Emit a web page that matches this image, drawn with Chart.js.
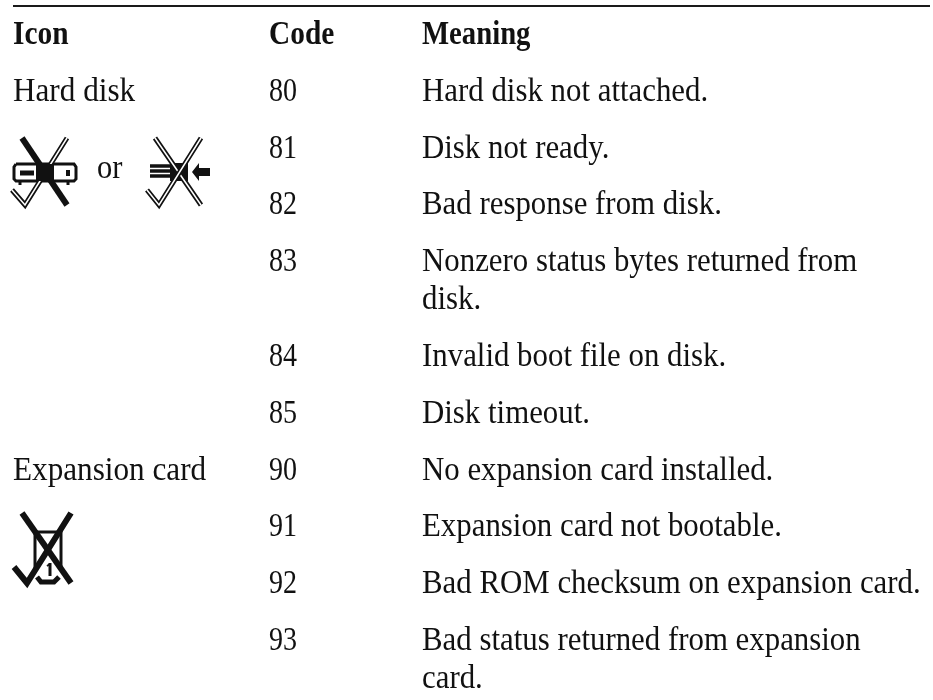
<!DOCTYPE html>
<html>
<head>
<meta charset="utf-8">
<script src="https://cdn.jsdelivr.net/npm/chart.js@4/dist/chart.umd.min.js"></script>
<style>
  html, body { margin: 0; padding: 0; background: #fff; }
</style>
</head>
<body>
<canvas id="myChart" width="933" height="700"></canvas>
<script>
var headers = ["Icon", "Code", "Meaning"];
var codes = ["80", "81", "82", "83", "84", "85", "90", "91", "92", "93"];
var meanings = [
    ["Hard disk not attached."],
    ["Disk not ready."],
    ["Bad response from disk."],
    ["Nonzero status bytes returned from", "disk."],
    ["Invalid boot file on disk."],
    ["Disk timeout."],
    ["No expansion card installed."],
    ["Expansion card not bootable."],
    ["Bad ROM checksum on expansion card."],
    ["Bad status returned from expansion", "card."]
];
var groupNames = ["Hard disk", "", "", "", "", "", "Expansion card", "", "", ""];

// table layout, in axis units
var colX = [13, 269, 422];
var headerY = 44, rowGap = 56.8, wrapGap = 38;

var rowY = [];
var y = headerY;
meanings.forEach(function(m) {
    y += rowGap;
    rowY.push(y);
    y += (m.length - 1) * wrapGap;
});

function textSet(x, items, bold, squeeze) {
    return {
        data: items.map(function(it) { return { x: x, y: it.y }; }),
        texts: items.map(function(it) { return it.t; }),
        bold: bold,
        squeeze: squeeze,
        pointRadius: 0,
        showLine: false
    };
}

var meaningLines = [];
meanings.forEach(function(m, i) {
    m.forEach(function(line, j) {
        meaningLines.push({ t: line, y: rowY[i] + j * wrapGap });
    });
});
var groupLines = [];
groupNames.forEach(function(g, i) {
    if (g) groupLines.push({ t: g, y: rowY[i] });
});

var datasets = [
    { data: [{ x: 13, y: 6 }, { x: 930, y: 6 }], showLine: true, borderColor: "#1a1a1a", borderWidth: 2, pointRadius: 0 },
    textSet(colX[0], [{ t: headers[0], y: headerY }], true, 0.89),
    textSet(colX[1], [{ t: headers[1], y: headerY }], true, 0.89),
    textSet(colX[2], [{ t: headers[2], y: headerY }], true, 0.87),
    textSet(colX[0], groupLines, false, 0.945),
    textSet(colX[1], codes.map(function(c, i) { return { t: c, y: rowY[i] }; }), false, 0.85),
    textSet(colX[2], meaningLines, false, 0.935),
    textSet(97, [{ t: "or", y: 178 }], false, 0.925)
];

var tablePlugin = {
    id: "tablePlugin",
    afterDatasetsDraw: function(chart) {
        var c = chart.ctx;
        var sx = chart.scales.x, sy = chart.scales.y;
        c.save();
        c.fillStyle = "#111";
        c.textBaseline = "alphabetic";
        chart.data.datasets.forEach(function(ds, i) {
            if (!ds.texts) return;
            c.font = (ds.bold ? "bold " : "") + "33px 'Liberation Serif'";
            chart.getDatasetMeta(i).data.forEach(function(pt, k) {
                c.save();
                c.translate(pt.x, pt.y);
                c.scale(ds.squeeze, 1);
                c.fillText(ds.texts[k], 0, 0);
                c.restore();
            });
        });

        function line(pts, w, col) {
            c.beginPath();
            pts.forEach(function(p, k) {
                var px = sx.getPixelForValue(p[0]), py = sy.getPixelForValue(p[1]);
                if (k == 0) c.moveTo(px, py); else c.lineTo(px, py);
            });
            c.lineWidth = w;
            c.strokeStyle = col || "#111";
            c.stroke();
        }
        function shape(pts) {
            c.beginPath();
            pts.forEach(function(p, k) {
                var px = sx.getPixelForValue(p[0]), py = sy.getPixelForValue(p[1]);
                if (k == 0) c.moveTo(px, py); else c.lineTo(px, py);
            });
            c.closePath();
            c.fill();
        }
        c.lineCap = "butt";
        c.lineJoin = "miter";

        // hard disk icon
        line([[16, 164], [74, 164], [76, 167], [76, 179], [74, 181], [16, 181], [14, 179], [14, 167], [16, 164]], 3);
        line([[20, 173], [34, 173]], 5);
        line([[68, 170], [68, 176]], 4);
        line([[20, 182], [20, 185]], 3);
        line([[68, 182], [68, 185]], 3);
        line([[22, 138], [67, 205]], 6);
        line([[12, 190], [25, 205], [67, 138]], 5);
        line([[12, 190], [25, 205], [67, 138]], 1.5, "#fff");
        shape([[36, 164], [54, 164], [54, 181], [36, 181]]);

        // floppy drive icon
        line([[150, 166], [186, 166]], 3.5);
        line([[150, 171], [186, 171]], 3.5);
        line([[150, 176], [186, 176]], 3.5);
        shape([[170, 163], [188, 163], [188, 181], [170, 181]]);
        shape([[192, 172], [199, 163], [199, 168], [210, 168], [210, 176], [199, 176], [199, 181]]);
        line([[155, 138], [201, 205]], 5);
        line([[155, 138], [201, 205]], 1.5, "#fff");
        line([[147, 190], [159, 205], [201, 138]], 5);
        line([[147, 190], [159, 205], [201, 138]], 1.5, "#fff");

        // expansion card icon
        line([[34, 532], [62, 532]], 3);
        line([[35, 531], [35, 568]], 3);
        line([[61, 531], [61, 570]], 3);
        line([[22, 513], [71, 583]], 6);
        line([[14, 567], [27, 583], [71, 513]], 6);
        line([[37, 577], [41, 582], [54, 582], [59, 577]], 5);
        line([[50, 563], [50, 576]], 3);
        line([[47, 566], [50, 564]], 2);
        c.restore();
    }
};

var ctx = document.getElementById("myChart");
var myChart = new Chart(ctx, {
    type: 'scatter',
    data: { datasets: datasets },
    plugins: [tablePlugin],
    options: {
        responsive: false,
        animation: false,
        layout: { padding: 0 },
        plugins: { legend: { display: false }, tooltip: { enabled: false } },
        scales: {
            x: { type: 'linear', display: false, min: 0, max: 933 },
            y: { type: 'linear', display: false, min: 0, max: 700, reverse: true }
        }
    }
});
</script>
</body>
</html>
